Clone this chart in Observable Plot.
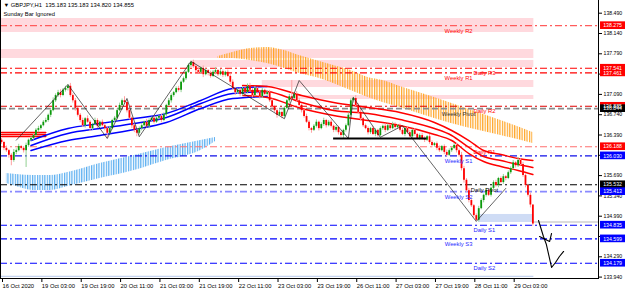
<!DOCTYPE html>
<html><head><meta charset="utf-8">
<script src="https://cdn.jsdelivr.net/npm/d3@7"></script>
<script src="https://cdn.jsdelivr.net/npm/@observablehq/plot@0.6"></script>
<style>
html,body{margin:0;padding:0;background:#fff;}
#chart{width:625px;height:291px;overflow:hidden;}
svg{display:block;}
</style></head><body><div id="chart"></div>
<script>
// ---- hourly closes (bar 0 = 16 Oct 2020 11:00) ----
const firstOpen = 136.30;
const closes = [
136.26,136.16,136.12,136.04,135.95,136.09,136.12,136.19,136.16,
136.12,136.21,136.30,136.33,
136.38,136.47,136.50,136.55,136.61,
136.64,136.73,136.81,136.98,137.07,
137.12,137.07,137.16,137.19,137.23,
137.07,136.98,136.85,136.73,136.64,
136.55,136.67,136.61,136.50,136.57,136.64,136.54,136.61,136.55,136.50,
136.42,136.50,136.64,136.68,
136.81,136.90,136.98,136.95,
136.81,136.68,136.55,136.47,136.42,
136.50,136.55,136.61,136.54,136.64,136.68,136.61,
136.68,136.71,136.64,136.74,
136.90,136.98,137.07,137.12,137.19,
137.16,137.30,137.36,137.47,137.59,137.64,
137.57,137.50,137.47,137.54,137.43,137.50,137.45,137.40,137.47,137.50,137.43,137.48,137.42,137.47,137.40,
137.30,137.19,137.12,137.16,137.09,
137.19,137.12,137.23,137.16,137.07,137.19,137.12,137.05,137.16,137.09,137.12,
136.98,136.88,136.81,136.73,136.78,136.71,
136.85,136.98,137.05,137.02,137.09,136.98,
136.90,136.81,136.71,136.61,136.50,136.47,
136.54,136.61,136.50,136.57,136.64,136.55,136.61,136.54,136.47,136.52,136.43,136.38,
136.47,136.55,136.73,
136.98,137.02,
136.90,136.78,136.67,136.55,136.50,
136.43,136.50,136.40,136.47,136.38,
136.50,136.54,136.47,136.55,136.50,136.57,136.52,136.55,
136.47,136.40,136.50,136.43,136.36,136.47,136.40,136.33,136.38,
136.33,136.30,136.36,136.26,136.21,136.24,
136.16,136.12,136.19,136.09,136.04,136.12,
136.16,136.21,136.12,136.04,
135.81,135.61,135.43,135.26,135.17,135.00,134.92,
135.12,135.26,135.35,135.43,135.35,135.47,
135.57,135.52,135.64,135.57,135.67,135.64,135.74,
135.81,135.91,135.86,135.95,135.88,
135.69,135.52,135.35,135.183,
134.855
];
// upper / lower wick lengths, in units of 0.01 JPY
const upWick = [
3,2,4,2,3,5,3,4,2, 3,4,2,3, 2,3,4,2,3, 4,2,3,5,3, 4,5,3,4,3, 5,3,4,2,3,
4,2,5,3,2,4,3,2,4,3, 3,4,2,3, 3,4,3,7, 4,3,2,4,3, 3,4,2,5,3,2,4, 3,2,4,3,
2,4,3,2,3, 4,2,3,2,3,2, 4,3,5,2,4,3,2,4,3,5,2,4,3,2,4, 3,4,2,3,4,
3,2,4,5,3,4,2,3,4,2,3, 4,3,2,4,3,2, 3,2,4,28,3,5, 4,3,2,4,3,2,
3,4,2,3,4,2,3,4,2,3,2,3, 2,3,4, 3,2, 5,3,4,2,3, 3,2,4,3,2, 3,2,4,3,2,4,3,2,
3,4,2,3,4,2,3,2,3, 4,3,2,4,3,2, 3,4,2,3,4,3, 2,3,4,3, 5,4,3,4,3,2,3,
4,3,2,4,3,2, 3,4,2,3,4,2,3, 3,4,2,5,3, 4,3,2,4, 0
];
const loWick = [
3,4,3,5,9,3,4,2,3, 4,29,3,2, 3,2,4,3,2, 2,3,4,2,3, 3,4,2,3,4, 3,4,5,3,4,
3,4,2,5,3,2,4,3,2,4, 9,3,2,4, 3,2,4,3, 4,3,5,4,6, 3,4,2,3,4,2,3, 2,3,4,2,
3,2,4,3,2, 3,4,2,3,2,3, 3,4,2,3,5,2,4,3,2,4,3,2,4,3,2, 4,3,5,3,4,
3,4,2,3,4,2,3,4,3,2,4, 3,4,3,5,2,4, 3,2,4,3,2,3, 3,4,3,2,4,5,
2,3,4,2,3,4,2,3,4,3,4,3, 5,3,2, 3,4, 3,2,4,3,2, 4,3,2,4,3, 2,3,4,2,3,2,4,3,
3,2,4,3,2,4,3,2,3, 3,4,2,3,4,3, 4,3,2,4,3,2, 3,2,4,3, 4,5,3,4,3,4,2,
3,2,4,3,2,3, 2,3,4,2,3,4,2, 3,2,4,3,2, 3,4,3,5, 3.5
];

// ---- moving-average envelope (bars, upper / middle / lower) ----
const envRedABars = [0, 18];
const envRedAUp = [136.433, 136.433];
const envRedAMid = [136.399, 136.399];
const envRedALo = [136.364, 136.364];
const envBlueBars = [12, 27, 40, 54, 67, 81, 94, 108];
const envBlueUp  = [136.295,136.502,136.588,136.674,136.761,136.985,137.192,137.226];
const envBlueMid = [136.209,136.416,136.502,136.588,136.692,136.933,137.106,137.140];
const envBlueLo  = [136.123,136.295,136.382,136.485,136.606,136.847,137.019,137.054];
const envRedBars = [98,108,122,135,149,162,176,183,190,196,203,210,216];
const envRedUp  = [137.244,137.226,137.071,136.950,136.864,136.778,136.606,136.468,136.295,136.123,136.054,135.985,135.950];
const envRedMid = [137.157,137.140,136.950,136.812,136.761,136.657,136.502,136.382,136.175,136.019,135.950,135.881,135.830];
const envRedLo  = [137.071,137.037,136.847,136.726,136.640,136.554,136.399,136.295,136.071,135.933,135.847,135.778,135.709];

// ---- hatched clouds ----
const orangeBars = [88,94,101,108,115,121,128,135,142,149,155,162,176,189,203,216];
const orangeTop = [137.744,137.813,137.881,137.899,137.847,137.761,137.675,137.588,137.502,137.381,137.330,137.226,137.037,136.847,136.640,136.433];
const orangeBot = [137.709,137.709,137.675,137.623,137.537,137.450,137.381,137.278,137.157,137.037,136.950,136.864,136.675,136.519,136.382,136.244];
const blueBars = [2,6,13,20,27,40,54,67,81,87];
const blueTop = [135.726,135.709,135.692,135.692,135.744,135.899,136.037,136.175,136.295,136.347];
const blueBot = [135.554,135.502,135.433,135.433,135.502,135.640,135.778,135.950,136.123,136.278];

// ---- zigzag ----
const zigBars = [6,27,43,51,56,77,115,121,141,143,154,163,193,205];
const zigPrices = [136.30,137.26,136.33,137.02,136.36,137.66,136.67,137.33,136.33,137.04,136.35,136.55,134.90,135.47];

// ---- hand-drawn arrow ----
const arrowBars = [218.3,220.3,221.5,222.4,223.6,225.2,226.8,228.5];
const arrowPrices = [134.916,134.640,134.502,134.330,134.106,134.192,134.295,134.382];
const hookBars = [218.7,222.8,223.6];
const hookPrices = [134.640,134.554,134.692];

// ---- pivot levels ----
const levelValues = [138.275,137.541,137.461,136.885,136.844,136.188,136.030,135.532,135.413,134.835,134.599,134.179];
const levelNames = ["Weekly R2","Daily R3","Weekly R1","Daily R2","Weekly Pivot","Daily R1","Weekly S1","Daily Pivot","Weekly S2","Daily S1","Weekly S3","Daily S2"];
const levelLine = ["#ff5c5c","#ff0000","#ff0000","#e00000","#8c8c8c","#ff7070","#1010e8","#000000","#8a8aff","#0000ff","#0000ff","#0000ff"];
const levelText = ["#ff0000","#ff0000","#ff0000","#ff0000","#333333","#ff0000","#2a2aff","#000000","#2a2aff","#1a1aff","#2a2aff","#1a1aff"];
const levelBox = ["#ff0000","#ff0000","#ff0000","#ff0000","#000000","#ff0000","#0000ff","#000000","#0000ff","#0000ff","#0000ff","#0000ff"];

// ---- pink zones (price bands) ----
const zoneStart = [0, 0, 77, 106, 120];
const zoneHi = [138.399,137.864,137.675,137.330,137.071];
const zoneLo = [138.157,137.709,137.554,137.209,137.002];
const zoneEnd = 216.4;

const demandBars = [194, 216.4];
const demandHi = 135.020, demandLo = 134.882;
const flatBarHi = 134.899, flatBarLo = 134.864;
const swingLevel = 136.33, swingFrom = 135, swingTo = 173;
const baseLine = 133.951;

// ---- axes ----
const yTicks = [138.490,138.140,137.790,137.440,137.090,136.740,136.390,136.040,135.690,135.340,134.990,134.640,134.290,133.940];
const yTicksHidden = [137.440,136.040,134.640]; // covered by level boxes in the original
const xTickBars = [0,16,32,48,64,80,96,112,128,144,160,176,192,208];
const xTickLabels = ["16 Oct 2020","19 Oct 03:00","19 Oct 19:00","20 Oct 11:00","21 Oct 03:00","21 Oct 19:00","22 Oct 11:00","23 Oct 03:00","23 Oct 19:00","26 Oct 11:00","27 Oct 03:00","27 Oct 19:00","28 Oct 11:00","29 Oct 03:00"];
const titleText = "▼ GBPJPY,H1  135.183 135.183 134.820 134.855";
const subText = "Sunday Bar Ignored";

// ---- build tables ----
const candles = closes.map((c, i) => {
  const o = i ? closes[i-1] : firstOpen;
  return {i, o, c, h: Math.max(o, c) + upWick[i] / 100, l: Math.min(o, c) - loWick[i] / 100};
});
const mk = (bars, arrs, names) => bars.map((b, k) => { const o = {b}; names.forEach((n, j) => o[n] = arrs[j][k]); return o; });
const envRedA = mk(envRedABars, [envRedAUp, envRedAMid, envRedALo], ["u","m","l"]);
const envBlue = mk(envBlueBars, [envBlueUp, envBlueMid, envBlueLo], ["u","m","l"]);
const envRed = mk(envRedBars, [envRedUp, envRedMid, envRedLo], ["u","m","l"]);
const orange = mk(orangeBars, [orangeTop, orangeBot], ["t","d"]);
const blueCloud = mk(blueBars, [blueTop, blueBot], ["t","d"]);
const zig = mk(zigBars, [zigPrices], ["p"]);
const arrow = mk(arrowBars, [arrowPrices], ["p"]);
const hook = mk(hookBars, [hookPrices], ["p"]);
const levels = levelValues.map((v, k) => ({v, name: levelNames[k], lc: levelLine[k], tc: levelText[k], bg: levelBox[k], weekly: levelNames[k].startsWith("Weekly")}));
const zones = zoneStart.map((s, k) => ({s, hi: zoneHi[k], lo: zoneLo[k]}));
const xLabelMap = new Map(xTickBars.map((b, k) => [b, xTickLabels[k]]));
const shownTicks = yTicks.filter(t => !yTicksHidden.includes(t));

const envMarks = (data, color) => ["u","m","l"].map(f => Plot.line(data, {x: "b", y: f, stroke: color, strokeWidth: 1.5, curve: "monotone-x"}));
const lvPivotW = levels.filter(d => d.name === "Weekly Pivot");
const lvS2W = levels.filter(d => d.name === "Weekly S2");
const lvOther = levels.filter(d => d.name !== "Weekly Pivot" && d.name !== "Weekly S2");

const chart = Plot.plot({
  width: 625, height: 291,
  marginTop: 0, marginBottom: 13, marginLeft: 0, marginRight: 27,
  x: {domain: [-0.4065, 242.68], axis: null},
  y: {domain: [133.916, 138.709], axis: null},
  color: {type: "identity"},
  style: {fontFamily: "'Liberation Sans', Arial, sans-serif", fontSize: "5.8px", background: "#fff", overflow: "visible"},
  marks: [
    Plot.rect(zones, {x1: "s", x2: () => zoneEnd, y1: "lo", y2: "hi", fill: "#ffd9de"}),
    Plot.rect([0], {x1: () => demandBars[0], x2: () => demandBars[1], y1: () => demandLo, y2: () => demandHi, fill: "#cfdcf5"}),
    Plot.rect([0], {x1: () => 216.4, x2: () => 242.68, y1: () => flatBarLo, y2: () => flatBarHi, fill: "#dcdcdc"}),
    Plot.ruleY([baseLine], {x1: 0, x2: zoneEnd, stroke: "#c4d2ee", strokeWidth: 1.2}),
    Plot.areaY(orange, {x: "b", y1: "d", y2: "t", fill: "url(#stOrange)", curve: "monotone-x"}),
    Plot.areaY(blueCloud, {x: "b", y1: "d", y2: "t", fill: "url(#stBlue)", curve: "monotone-x"}),
    Plot.ruleY(lvOther, {y: "v", stroke: "lc", strokeWidth: 1.1, strokeDasharray: "7,3,2,3"}),
    Plot.ruleY(lvPivotW, {y: "v", stroke: "lc", strokeWidth: 1.8, strokeDasharray: "6,3"}),
    Plot.ruleY(lvS2W, {y: "v", stroke: "lc", strokeWidth: 1.8, strokeDasharray: "7,3,2,3"}),
    ...envMarks(envRedA, "#ff0000"),
    ...envMarks(envBlue, "#0000ff"),
    ...envMarks(envRed, "#ff0000"),
    Plot.ruleX(candles, {x: "i", y1: "l", y2: "h", stroke: d => d.c >= d.o ? "#93d193" : "#ffa0a0", strokeWidth: 1}),
    Plot.ruleX(candles, {x: "i", y1: "o", y2: "c", stroke: d => d.c >= d.o ? "#0b990b" : "#ff0000", strokeWidth: 1.8}),
    Plot.line(zig, {x: "b", y: "p", stroke: "#222", strokeWidth: 0.7}),
    Plot.ruleY([swingLevel], {x1: swingFrom, x2: swingTo, stroke: "#000", strokeWidth: 2}),
    Plot.line(arrow, {x: "b", y: "p", stroke: "#000", strokeWidth: 1.1}),
    Plot.line(hook, {x: "b", y: "p", stroke: "#000", strokeWidth: 1.1}),
    Plot.text(levels, {x: d => d.weekly ? 185.8 : 196.3, y: "v", dy: 5, text: "name", fill: "tc", fontSize: 5.8}),
    Plot.frame({anchor: "left", stroke: "#000"}),
    Plot.frame({anchor: "right", stroke: "#000"}),
    Plot.frame({anchor: "bottom", stroke: "#000"}),
    Plot.axisY({anchor: "right", ticks: yTicks, tickFormat: () => "", tickSize: 3, color: "#000"}),
    Plot.axisY({anchor: "right", ticks: shownTicks, tickFormat: d => d.toFixed(3), tickSize: 0, tickPadding: 5, fontSize: 5.2, color: "#000"}),
    Plot.axisX({anchor: "bottom", ticks: xTickBars, tickFormat: d => xLabelMap.get(d), textAnchor: "start", tickSize: 4, tickPadding: 1, dx: 1, fontSize: 5.8, color: "#000"}),
    Plot.rect(levels, {x1: () => 243.5, x2: () => 253.8, y1: d => d.v - 0.066, y2: d => d.v + 0.066, fill: "bg"}),
    Plot.text(levels, {x: () => 244.6, y: "v", text: d => d.v.toFixed(3), textAnchor: "start", fill: "#fff", fontSize: 5.2}),
    Plot.text([titleText], {frameAnchor: "top-left", dx: 3, dy: 2, text: d => d, fill: "#000", fontSize: 5.8}),
    Plot.text([subText], {frameAnchor: "top-left", dx: 3, dy: 11, text: d => d, fill: "#000", fontSize: 5.8})
  ]
});

d3.select(chart).insert("defs", ":first-child").html(
  '<pattern id="stOrange" width="2.46" height="6" patternUnits="userSpaceOnUse"><rect x="0" y="0" width="1.2" height="6" fill="#ffa526"/></pattern>' +
  '<pattern id="stBlue" width="2.46" height="6" patternUnits="userSpaceOnUse"><rect x="0" y="0" width="1.2" height="6" fill="#5aaef0"/></pattern>'
);
document.getElementById("chart").appendChild(chart);
</script>
</body></html>
